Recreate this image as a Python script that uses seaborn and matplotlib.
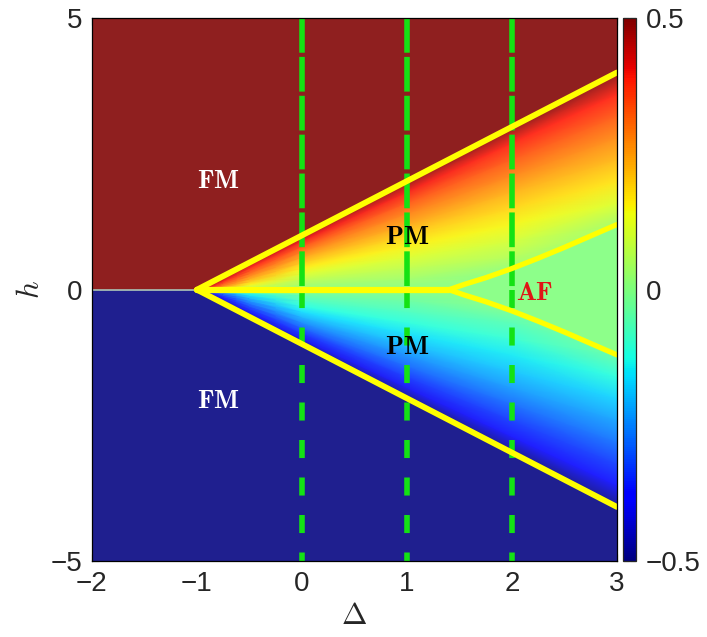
import numpy as np
import matplotlib
matplotlib.use("Agg")
import matplotlib.pyplot as plt
import seaborn as sns
from matplotlib.colors import Normalize, ListedColormap
from matplotlib.cm import ScalarMappable

# FM / PM boundary (saturation field), upper branch; lower is the mirror
sat_delta = [-1.0, 3.0]
sat_h = [0.0, 4.0]

# AF / PM boundary, upper branch; lower is the mirror
af_delta = [1.40, 1.55, 1.75, 2.0, 2.25, 2.5, 2.75, 3.0]
af_h = [0.0, 0.10, 0.22, 0.39, 0.58, 0.78, 0.99, 1.20]

# h = 0 line inside PM
zero_delta = [-1.0, 1.40]

# dashed cuts
cut_delta = [0, 1, 2]

# magnetisation in the PM phase, read along a few columns of Delta
# rows are fractions of the saturation field h/h_sat (positive half)
col_delta = [-1.0, -0.9, -0.75, -0.5, 0.0, 1.0, 2.0, 3.0]
col_hsat = [0.0, 0.1, 0.25, 0.5, 1.0, 2.0, 3.0, 4.0]
frac = [0, 0.05, 0.1, 0.2, 0.3, 0.4, 0.5, 0.6, 0.7, 0.8, 0.9, 1.0]
m_d_m100 = [0, 0.30, 0.36, 0.41, 0.43, 0.45, 0.46, 0.47, 0.48, 0.49, 0.495, 0.5]
m_d_m090 = [0, 0.20, 0.27, 0.33, 0.37, 0.40, 0.42, 0.44, 0.46, 0.47, 0.485, 0.5]
m_d_m075 = [0, 0.11, 0.17, 0.24, 0.29, 0.32, 0.35, 0.38, 0.41, 0.44, 0.47, 0.5]
m_d_m050 = [0, 0.05, 0.09, 0.155, 0.20, 0.24, 0.275, 0.31, 0.345, 0.385, 0.43, 0.5]
m_d_000 = [0, 0.02, 0.04, 0.08, 0.12, 0.16, 0.20, 0.245, 0.29, 0.34, 0.40, 0.5]
m_d_100 = [0, 0.018, 0.036, 0.075, 0.115, 0.155, 0.195, 0.24, 0.285, 0.335, 0.395, 0.5]
m_d_200 = [0, 0, 0, 0.06, 0.105, 0.145, 0.185, 0.23, 0.28, 0.33, 0.39, 0.5]
m_d_300 = [0, 0, 0, 0, 0.04, 0.115, 0.17, 0.22, 0.27, 0.325, 0.39, 0.5]

sns.set_style("ticks")
plt.rcParams['font.family'] = ['Liberation Sans', 'DejaVu Sans']
plt.rcParams['mathtext.fontset'] = 'cm'
plt.rcParams['lines.scale_dashes'] = False

jet = plt.get_cmap('jet')
norm = Normalize(-0.5, 0.5)
# the map itself looks slightly washed out (fine white grid over it)
shade = 0.88
base = jet(np.linspace(0, 1, 256))
soft = ListedColormap(base[:, :3] * shade + (1 - shade))

fig = plt.figure(figsize=(7.07, 6.37), dpi=100)
ax = fig.add_axes([0.130, 0.119, 0.7426, 0.8524])
cax = fig.add_axes([0.881, 0.119, 0.0184, 0.8524])

# PM mesh
frac_a = np.array(frac)
frac_full = np.concatenate([-frac_a[::-1], frac_a[1:]])
cols = [m_d_m100, m_d_m090, m_d_m075, m_d_m050, m_d_000, m_d_100, m_d_200, m_d_300]
Z = np.array([np.concatenate([-np.array(c)[::-1], np.array(c)[1:]]) for c in cols]).T
X = np.tile(np.array(col_delta), (len(frac_full), 1))
Y = frac_full[:, None] * np.array(col_hsat)[None, :]
ax.pcolormesh(X, Y, Z, shading='gouraud', cmap=soft, norm=norm, antialiased=False)

# FM regions
fm_delta = [-2.0] + sat_delta
fm_edge = [0.0] + sat_h
ax.fill_between(fm_delta, fm_edge, 5, color=soft(norm(0.5)), lw=0)
ax.fill_between(fm_delta, [-v for v in fm_edge], -5, color=soft(norm(-0.5)), lw=0)

# AF region
ax.fill_between(af_delta, [-v for v in af_h], af_h, color=soft(norm(0.0)), lw=0)

ax.plot([-2, -1], [0, 0], color='#a9c2b6', lw=1.2)

# dashed cuts
for d in cut_delta:
    ax.plot([d, d], [5, 0], color='#14e214', lw=4, dashes=(25, 3), solid_capstyle='butt')
    ax.plot([d, d], [0, -5], color='#14e214', lw=4, dashes=(13, 14), solid_capstyle='butt')

# phase boundaries
yl = '#ffff00'
sns.lineplot(x=sat_delta, y=sat_h, color=yl, lw=4.2, ax=ax)
sns.lineplot(x=sat_delta, y=[-v for v in sat_h], color=yl, lw=4.2, ax=ax)
sns.lineplot(x=zero_delta, y=[0, 0], color=yl, lw=4.5, ax=ax)
sns.lineplot(x=af_delta, y=af_h, color=yl, lw=3.8, ax=ax)
sns.lineplot(x=af_delta, y=[-v for v in af_h], color=yl, lw=3.8, ax=ax)

# labels
lab = dict(fontsize=19, ha='center', va='center')
ax.text(-0.8, 2.0, r'$\mathbf{FM}$', color='white', **lab)
ax.text(-0.8, -2.05, r'$\mathbf{FM}$', color='white', **lab)
ax.text(1.0, 0.97, r'$\mathbf{PM}$', color='black', **lab)
ax.text(1.0, -1.05, r'$\mathbf{PM}$', color='black', **lab)
ax.text(2.22, -0.06, r'$\mathbf{AF}$', color='#e01515', **lab)

ax.set_xlim(-2, 3)
ax.set_ylim(-5, 5)
ax.set_xticks([-2, -1, 0, 1, 2, 3])
ax.set_yticks([-5, 0, 5])
ax.tick_params(direction='in', top=True, right=True, length=5, width=0.8,
               labelsize=20, pad=7)
ax.set_xlabel(r'$\Delta$', fontsize=22, labelpad=3)
ax.set_ylabel(r'$h$', fontsize=22, labelpad=3)
for s in ax.spines.values():
    s.set_linewidth(0.9)
    s.set_color('black')

cb = fig.colorbar(ScalarMappable(norm=norm, cmap=jet), cax=cax)
cb.set_ticks([-0.5, 0, 0.5])
cb.set_ticklabels(['\u22120.5', '0', '0.5'])
cb.ax.tick_params(direction='in', left=True, right=True, length=4, width=0.8,
                  labelsize=20, pad=7)
cb.outline.set_linewidth(0.9)

fig.savefig('out.png', dpi=100)
